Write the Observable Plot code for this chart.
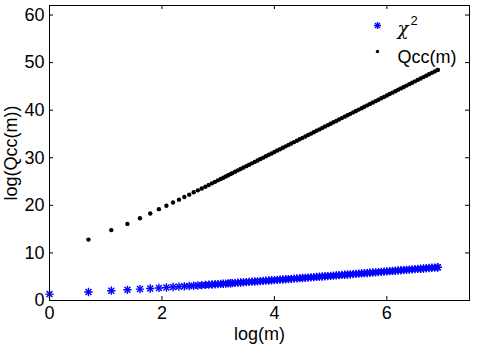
<!DOCTYPE html>
<html>
<head>
<meta charset="utf-8">
<script src="https://cdn.jsdelivr.net/npm/d3@7"></script>
<script src="https://cdn.jsdelivr.net/npm/@observablehq/plot@0.6"></script>
<style>
  html, body { margin: 0; padding: 0; background: #fff; }
  #chart { width: 480px; height: 346px; }
</style>
</head>
<body>
<div id="chart"></div>
<script>
// x: log(m)
const logm = [
  0, 0.693, 1.099, 1.386, 1.609, 1.792, 1.946, 2.079, 2.197, 2.303,
  2.398, 2.485, 2.565, 2.639, 2.708, 2.773, 2.833, 2.890, 2.944, 2.996,
  3.045, 3.091, 3.135, 3.178, 3.219,
  3.25, 3.30, 3.35, 3.40, 3.45, 3.50, 3.55, 3.60, 3.65, 3.70,
  3.75, 3.80, 3.85, 3.90, 3.95, 4.00, 4.05, 4.10, 4.15, 4.20,
  4.25, 4.30, 4.35, 4.40, 4.45, 4.50, 4.55, 4.60, 4.65, 4.70,
  4.75, 4.80, 4.85, 4.90, 4.95, 5.00, 5.05, 5.10, 5.15, 5.20,
  5.25, 5.30, 5.35, 5.40, 5.45, 5.50, 5.55, 5.60, 5.65, 5.70,
  5.75, 5.80, 5.85, 5.90, 5.95, 6.00, 6.05, 6.10, 6.15, 6.20,
  6.25, 6.30, 6.35, 6.40, 6.45, 6.50, 6.55, 6.60, 6.65, 6.70,
  6.75, 6.80, 6.85, 6.90, 6.908
];
// series "χ²" (blue)
const chi2 = [
  1.35, 1.79, 2.06, 2.25, 2.40, 2.53, 2.64, 2.74, 2.83, 2.91,
  2.98, 3.05, 3.11, 3.16, 3.22, 3.27, 3.32, 3.36, 3.41, 3.45,
  3.49, 3.52, 3.56, 3.60, 3.63,
  3.66, 3.70, 3.74, 3.78, 3.82, 3.86, 3.91, 3.95, 3.99, 4.03,
  4.08, 4.12, 4.16, 4.20, 4.25, 4.29, 4.33, 4.38, 4.42, 4.46,
  4.51, 4.55, 4.60, 4.64, 4.69, 4.73, 4.77, 4.82, 4.86, 4.91,
  4.95, 5.00, 5.05, 5.09, 5.14, 5.18, 5.23, 5.27, 5.32, 5.37,
  5.41, 5.46, 5.50, 5.55, 5.60, 5.64, 5.69, 5.74, 5.78, 5.83,
  5.88, 5.92, 5.97, 6.02, 6.07, 6.11, 6.16, 6.21, 6.25, 6.30,
  6.35, 6.40, 6.45, 6.49, 6.54, 6.59, 6.64, 6.68, 6.73, 6.78,
  6.83, 6.88, 6.92, 6.97, 6.98
];
// series "Qcc(m)" (black); no point at m = 1
const qcc = [
  null, 12.8, 14.8, 16.1, 17.3, 18.3, 19.2, 19.9, 20.6, 21.2,
  21.75, 22.25, 22.75, 23.15, 23.55, 23.92, 24.28, 24.62, 24.94, 25.25,
  25.54, 25.81, 26.07, 26.33, 26.57,
  26.76, 27.05, 27.35, 27.65, 27.94, 28.24, 28.54, 28.83, 29.13, 29.43,
  29.73, 30.02, 30.32, 30.62, 30.91, 31.21, 31.51, 31.80, 32.10, 32.40,
  32.70, 32.99, 33.29, 33.59, 33.88, 34.18, 34.48, 34.77, 35.07, 35.37,
  35.67, 35.96, 36.26, 36.56, 36.85, 37.15, 37.45, 37.74, 38.04, 38.34,
  38.64, 38.93, 39.23, 39.53, 39.82, 40.12, 40.42, 40.71, 41.01, 41.31,
  41.61, 41.90, 42.20, 42.50, 42.79, 43.09, 43.39, 43.68, 43.98, 44.28,
  44.58, 44.87, 45.17, 45.47, 45.76, 46.06, 46.36, 46.65, 46.95, 47.25,
  47.55, 47.84, 48.14, 48.44, 48.48
];
const xTicks = [0, 2, 4, 6];
const yTicks = [0, 10, 20, 30, 40, 50, 60];
const xLabel = "log(m)";
const yLabel = "log(Qcc(m))";
const legendLabels = ["χ", "2", "Qcc(m)"];

const rows = logm.map((x, i) => ({x, chi2: chi2[i], qcc: qcc[i]}));

const W = 480, H = 346;
const mL = 49, mR = 11, mT = 5, mB = 46;
const plotW = W - mL - mR, plotH = H - mT - mB;
const tickLen = 4;
const FONT = "'Liberation Sans', Arial, sans-serif";
const FS = 18;
const BLUE = "#0000ff";

const chart = Plot.plot({
  width: W, height: H,
  marginLeft: mL, marginRight: mR, marginTop: mT, marginBottom: mB,
  x: {domain: [0, 7.47], axis: null},
  y: {domain: [0, 62], axis: null},
  style: {fontFamily: FONT, fontSize: FS + "px", background: "#fff", color: "#000", overflow: "visible"},
  marks: [
    // inward ticks on all four sides
    Plot.tickX(xTicks, {x: d => d, insetTop: plotH - tickLen, stroke: "#000"}),
    Plot.tickX(xTicks, {x: d => d, insetBottom: plotH - tickLen, stroke: "#000"}),
    Plot.tickY(yTicks, {y: d => d, insetRight: plotW - tickLen, stroke: "#000"}),
    Plot.tickY(yTicks, {y: d => d, insetLeft: plotW - tickLen, stroke: "#000"}),
    Plot.axisX({ticks: xTicks, tickSize: 0, tickPadding: 6, fontSize: FS, label: null}),
    Plot.axisY({ticks: yTicks, tickSize: 0, tickPadding: 5, fontSize: FS, label: null}),
    // blue asterisks (plus + times)
    Plot.dot(rows, {x: "x", y: "chi2", symbol: "plus", r: 2.8, stroke: BLUE, strokeWidth: 1.4}),
    Plot.dot(rows, {x: "x", y: "chi2", symbol: "times", r: 2.8, stroke: BLUE, strokeWidth: 1.4}),
    // black point markers
    Plot.dot(rows, {x: "x", y: "qcc", r: 2.2, fill: "#000", stroke: null}),
    Plot.frame({stroke: "#000"}),
    // axis titles
    Plot.text([xLabel], {frameAnchor: "bottom", lineAnchor: "middle", dy: 33.5, fontSize: FS, fill: "#000"}),
    Plot.text([yLabel], {frameAnchor: "left", textAnchor: "middle", lineAnchor: "middle", dx: -38, dy: 0, rotate: -90, fontSize: FS, fill: "#000"}),
    // legend (top-right, no box)
    Plot.dot([0], {frameAnchor: "top-right", dx: -92, dy: 20, symbol: "plus", r: 2.4, stroke: BLUE, strokeWidth: 1.3}),
    Plot.dot([0], {frameAnchor: "top-right", dx: -92, dy: 20, symbol: "times", r: 2.4, stroke: BLUE, strokeWidth: 1.3}),
    Plot.text([legendLabels[0]], {frameAnchor: "top-right", lineAnchor: "middle", dx: -72, dy: 24, textAnchor: "start", fontSize: FS, fontFamily: "'DejaVu Serif', serif", fontStyle: "italic", fill: "#000"}),
    Plot.text([legendLabels[1]], {frameAnchor: "top-right", lineAnchor: "middle", dx: -59, dy: 15, textAnchor: "start", fontSize: 13, fill: "#000"}),
    Plot.dot([0], {frameAnchor: "top-right", dx: -92, dy: 46, r: 1.7, fill: "#000"}),
    Plot.text([legendLabels[2]], {frameAnchor: "top-right", lineAnchor: "middle", dx: -72, dy: 52, textAnchor: "start", fontSize: FS, fill: "#000"})
  ]
});
document.getElementById("chart").appendChild(chart);
</script>
</body>
</html>
